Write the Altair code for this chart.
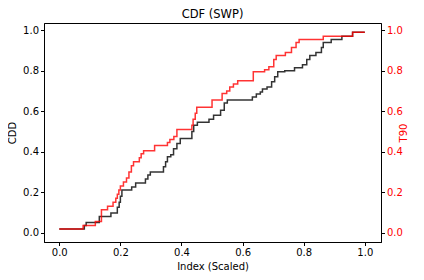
import altair as alt
import pandas as pd

# CDD (black) cumulative distribution: step positions and levels
cdd_x = [0.0, 0.082, 0.088, 0.131, 0.169, 0.19, 0.196, 0.2, 0.205, 0.237, 0.25,
         0.282, 0.29, 0.298, 0.341, 0.348, 0.354, 0.365, 0.374, 0.385, 0.396,
         0.434, 0.44, 0.452, 0.49, 0.505, 0.528, 0.54, 0.55, 0.632, 0.645,
         0.658, 0.665, 0.68, 0.695, 0.705, 0.715, 0.738, 0.77, 0.796, 0.81,
         0.82, 0.84, 0.858, 0.864, 0.89, 0.925, 0.96]
cdd_y = [0.018, 0.035, 0.05, 0.08, 0.097, 0.125, 0.15, 0.18, 0.21, 0.225, 0.245,
         0.265, 0.285, 0.30, 0.325, 0.35, 0.375, 0.385, 0.415, 0.44, 0.465,
         0.50, 0.53, 0.545, 0.56, 0.58, 0.605, 0.64, 0.655, 0.67, 0.685,
         0.695, 0.71, 0.72, 0.745, 0.77, 0.795, 0.80, 0.815, 0.83, 0.855,
         0.875, 0.89, 0.915, 0.94, 0.955, 0.97, 0.99]

# T90 (red) cumulative distribution
t90_x = [0.0, 0.078, 0.118, 0.138, 0.158, 0.176, 0.185, 0.19, 0.195, 0.2, 0.21,
         0.22, 0.228, 0.236, 0.243, 0.262, 0.268, 0.276, 0.312, 0.354, 0.362,
         0.375, 0.385, 0.434, 0.438, 0.445, 0.45, 0.5, 0.533, 0.548, 0.558,
         0.57, 0.584, 0.635, 0.672, 0.686, 0.702, 0.71, 0.74, 0.76, 0.775,
         0.785, 0.864, 0.96]
t90_y = [0.018, 0.035, 0.055, 0.113, 0.13, 0.15, 0.17, 0.19, 0.21, 0.23, 0.25,
         0.27, 0.30, 0.33, 0.35, 0.37, 0.39, 0.405, 0.43, 0.445, 0.46,
         0.475, 0.51, 0.53, 0.56, 0.59, 0.62, 0.655, 0.687, 0.70, 0.72,
         0.735, 0.75, 0.795, 0.805, 0.82, 0.855, 0.875, 0.89, 0.915, 0.94,
         0.955, 0.97, 0.99]

tick_vals = [0.0, 0.2, 0.4, 0.6, 0.8, 1.0]


def step_frame(xs, ys):
    return pd.DataFrame({"x": xs + [1.0], "y": ys + [ys[-1]]})


df_cdd = step_frame(cdd_x, cdd_y)
df_t90 = step_frame(t90_x, t90_y)

FONT = "DejaVu Sans"
xscale = alt.Scale(domain=[-0.05, 1.053], nice=False, zero=False)
yscale = alt.Scale(domain=[-0.0465, 1.036], nice=False, zero=False)

black = alt.Chart(df_cdd).mark_line(
    interpolate="step-after", color="black", strokeWidth=1.5, opacity=0.8
).encode(
    x=alt.X("x:Q", scale=xscale,
            axis=alt.Axis(title="Index (Scaled)", values=tick_vals, format=".1f",
                          titlePadding=4)),
    y=alt.Y("y:Q", scale=yscale,
            axis=alt.Axis(title="CDD", values=tick_vals, format=".1f",
                          orient="left", titlePadding=5)),
)

red = alt.Chart(df_t90).mark_line(
    interpolate="step-after", color="red", strokeWidth=1.5, opacity=0.8
).encode(
    x=alt.X("x:Q", scale=xscale),
    y=alt.Y("y:Q", scale=yscale,
            axis=alt.Axis(title="T90", values=tick_vals, format=".1f",
                          orient="right", labelColor="red", titleColor="red",
                          titleAngle=270, titlePadding=6)),
)

chart = alt.layer(black, red).resolve_scale(y="independent").properties(
    width=337,
    height=219,
    title=alt.TitleParams("CDF (SWP)", font=FONT, fontSize=11.5,
                          fontWeight="normal", color="black", offset=3),
    padding={"left": 36, "top": 15, "right": 35, "bottom": 30},
    autosize=alt.AutoSizeParams(type="none"),
).configure_view(
    stroke="black", strokeWidth=1
).configure_axis(
    grid=False, domainColor="black", tickColor="black", tickSize=3.5,
    labelFont=FONT, labelFontSize=10, labelPadding=2,
    titleFont=FONT, titleFontSize=10, titleFontWeight="normal",
    titleColor="black", labelColor="black",
)

chart.save("out.html", embed_options={"renderer": "svg", "actions": False})
